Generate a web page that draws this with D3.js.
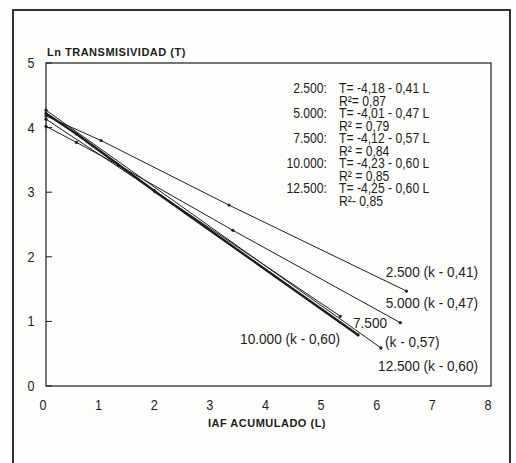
<!DOCTYPE html>
<meta charset="utf-8">
<script src="https://d3js.org/d3.v7.min.js"></script>
<style>
  body { margin: 0; background: #fff; }
  text { fill: #1b1f1b; font-family: "Liberation Sans", Arial, sans-serif; }
</style>
<div id="chart"></div>
<script>
  const series = ["2.500", "5.000", "7.500", "10.000", "12.500"];
  const laiPoints = [
    [0, 0.99, 3.29, 6.48],
    [0, 0.55, 1.30, 3.36, 6.37],
    [0, 1.95, 5.29],
    [0, 0.55, 1.96, 5.61],
    [0, 6.02]
  ];
  const lnTPoints = [
    [4.18, 3.80, 2.80, 1.47],
    [4.02, 3.77, 3.42, 2.41, 0.98],
    [4.13, 3.02, 1.08],
    [4.22, 3.90, 3.01, 0.79],
    [4.27, 0.59]
  ];
  const equations = ["T= -4,18 - 0,41 L", "T= -4,01 - 0,47 L", "T= -4,12 - 0,57 L", "T= -4,23 - 0,60 L", "T= -4,25 - 0,60 L"];
  const r2Labels = ["R\u00b2= 0,87", "R\u00b2 = 0,79", "R\u00b2 = 0,84", "R\u00b2 = 0,85", "R\u00b2- 0,85"];
  const xTicks = [0, 1, 2, 3, 4, 5, 6, 7, 8];
  const yTicks = [0, 1, 2, 3, 4, 5];

  const W = 516, H = 463;
  const x = d3.scaleLinear().domain([0, 8]).range([46, 491]);
  const y = d3.scaleLinear().domain([0, 5]).range([386, 63]);
  const ink = "#1b1f1b";

  const svg = d3.select("#chart").append("svg")
    .attr("width", W).attr("height", H)
    .style("background", "#fdfdfb");

  // condensed text: no narrow font installed, so squeeze horizontally
  function narrowText(parent, str, px, py, anchor, size, sx) {
    return parent.append("text")
      .attr("transform", `translate(${px},${py}) scale(${sx},1)`)
      .attr("text-anchor", anchor)
      .style("font-size", size + "px")
      .text(str);
  }

  // outer frame (bottom edge runs off the picture)
  svg.append("rect")
    .attr("x", 13).attr("y", 10).attr("width", 497).attr("height", 470)
    .attr("fill", "none").attr("stroke", ink).attr("stroke-width", 1.8);

  // plot box
  svg.append("rect")
    .attr("x", x(0)).attr("y", y(5))
    .attr("width", x(8) - x(0)).attr("height", y(0) - y(5))
    .attr("fill", "none").attr("stroke", ink).attr("stroke-width", 1.2);

  // y ticks (inside) + labels
  svg.append("g").selectAll("line").data(yTicks).join("line")
    .attr("x1", x(0)).attr("x2", x(0) + 6)
    .attr("y1", d => y(d)).attr("y2", d => y(d))
    .attr("stroke", ink).attr("stroke-width", 1);
  const yl = svg.append("g");
  yTicks.forEach(d => narrowText(yl, d, 31, y(d) + 5, "middle", 14, 0.9));

  // x labels (no tick marks)
  const xl = svg.append("g");
  xTicks.forEach(d => narrowText(xl, d, x(d) - 3, 410, "middle", 14, 0.9));

  // axis titles
  svg.append("text")
    .attr("x", 47).attr("y", 56)
    .style("font-size", "11px").style("font-weight", "bold")
    .style("letter-spacing", "0.5px")
    .text("Ln TRANSMISIVIDAD (T)");
  svg.append("text")
    .attr("x", 267).attr("y", 427)
    .attr("text-anchor", "middle")
    .style("font-size", "11px").style("font-weight", "bold")
    .style("letter-spacing", "0.5px")
    .text("IAF ACUMULADO (L)");

  // regression lines
  const line = d3.line().x(d => x(d[0])).y(d => y(d[1]));
  const data = series.map((s, i) => ({
    name: s,
    pts: laiPoints[i].map((l, j) => [l, lnTPoints[i][j]])
  }));
  const g = svg.append("g");
  g.selectAll("path").data(data).join("path")
    .attr("d", d => line(d.pts))
    .attr("fill", "none").attr("stroke", ink)
    .attr("stroke-width", d => d.name === "10.000" ? 2.4 : 1);
  g.selectAll("g.dots").data(data).join("g").attr("class", "dots")
    .selectAll("circle").data(d => d.pts).join("circle")
    .attr("cx", d => x(d[0])).attr("cy", d => y(d[1]))
    .attr("r", 1.6).attr("fill", ink);

  // equation block
  const eq = svg.append("g");
  series.forEach((s, i) => {
    const yy = 93 + i * 25;
    narrowText(eq, s + ":", 327, yy, "end", 14, 0.87);
    narrowText(eq, equations[i], 339, yy, "start", 14, 0.87);
    narrowText(eq, r2Labels[i], 339, yy + 12.5, "start", 14, 0.87);
  });

  // end labels
  const endLabels = [
    { t: "2.500 (k - 0,41)", px: 478, py: 277, a: "end" },
    { t: "5.000 (k - 0,47)", px: 478, py: 308, a: "end" },
    { t: "7.500", px: 353, py: 328, a: "start" },
    { t: "(k - 0,57)", px: 385, py: 347, a: "start" },
    { t: "10.000 (k - 0,60)", px: 340, py: 344, a: "end" },
    { t: "12.500 (k - 0,60)", px: 478, py: 371, a: "end" }
  ];
  const el = svg.append("g");
  endLabels.forEach(d => narrowText(el, d.t, d.px, d.py, d.a, 15.5, 0.88));
</script>
